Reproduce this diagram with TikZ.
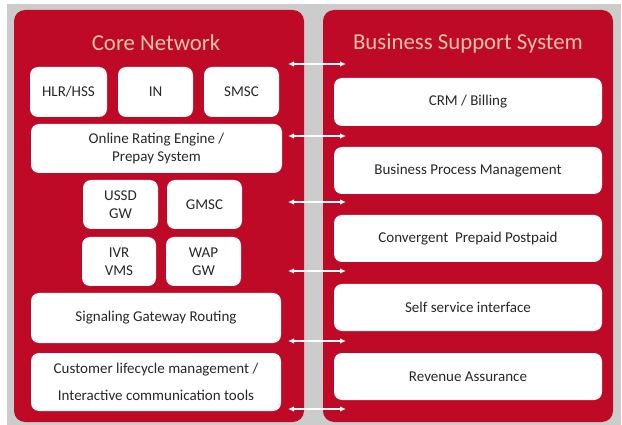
\documentclass[tikz,border=0pt]{standalone}
\usepackage{fontspec}
\setmainfont{Carlito}
\usetikzlibrary{arrows.meta}
\definecolor{bred}{RGB}{190,10,38}
\definecolor{bgray}{RGB}{204,204,204}
\definecolor{ttan}{RGB}{222,196,165}
\definecolor{txt}{RGB}{40,40,40}
\tikzset{
  panel/.style={fill=bred, rounded corners=11pt},
  wbox/.style={fill=white, rounded corners=8pt, text=txt, font=\fontsize{15}{18}\selectfont, align=center},
  ttl/.style={text=ttan, font=\fontsize{22.8}{26}\selectfont},
  link/.style={draw=white, line width=1.2pt, {Latex[length=6pt,width=5.5pt]}-{Latex[length=6pt,width=5.5pt]}}
}
\newcommand{\bx}[6]{\path[wbox] (#2,#3) rectangle (#4,#5); \node[wbox, fill=none] (#1) at ({(#2+#4)/2},{(#3+#5)/2}) {#6};}
\begin{document}
\begin{tikzpicture}[x=1pt,y=-1pt]
\useasboundingbox (0,0) rectangle (622,425);
\fill[white] (0,0) rectangle (622,425);
\fill[bgray] (7,4) rectangle (621,425);
\fill[panel] (14,10) rectangle (304,422);
\fill[panel] (323,10) rectangle (613,422);
\node[ttl] (tcore) at (156,43) {Core Network};
\node[ttl] (tbss) at (468,43) {Business Support System};
% left
\bx{hlr}{30}{67}{107}{117}{HLR/HSS}
\bx{in}{118}{67}{193}{117}{IN}
\bx{smsc}{204}{67}{279}{117}{SMSC}
\bx{ore}{31}{124}{282}{173}{Online Rating Engine /\\Prepay System}
\bx{ussd}{83}{180}{158}{229}{USSD\\GW}
\bx{gmsc}{167}{180}{242}{229}{GMSC}
\bx{ivr}{82}{237}{156}{286}{IVR\\VMS}
\bx{wap}{166}{237}{241}{286}{WAP\\GW}
\bx{sgr}{31}{293}{281}{343}{Signaling Gateway Routing}
\path[wbox] (31,353) rectangle (281,411);
\node[wbox, fill=none, font=\fontsize{15}{27}\selectfont] (clm) at (156,382) {Customer lifecycle management /\\Interactive communication tools};
% right
\bx{crm}{334}{78}{602}{126}{CRM / Billing}
\bx{bpm}{334}{147}{602}{194}{Business Process Management}
\bx{cpp}{334}{215}{602}{262}{Convergent\ \ Prepaid Postpaid}
\bx{ssi}{334}{284}{602}{331}{Self service interface}
\bx{ra}{334}{353}{602}{400}{Revenue Assurance}
% arrows
\foreach \i/\y in {1/64,2/136,3/202,4/271,5/341,6/409}{
  \coordinate (l\i) at (288,\y);
  \coordinate (r\i) at (346,\y);
  \draw[link] (l\i) -- (r\i);
}
\end{tikzpicture}
\end{document}
